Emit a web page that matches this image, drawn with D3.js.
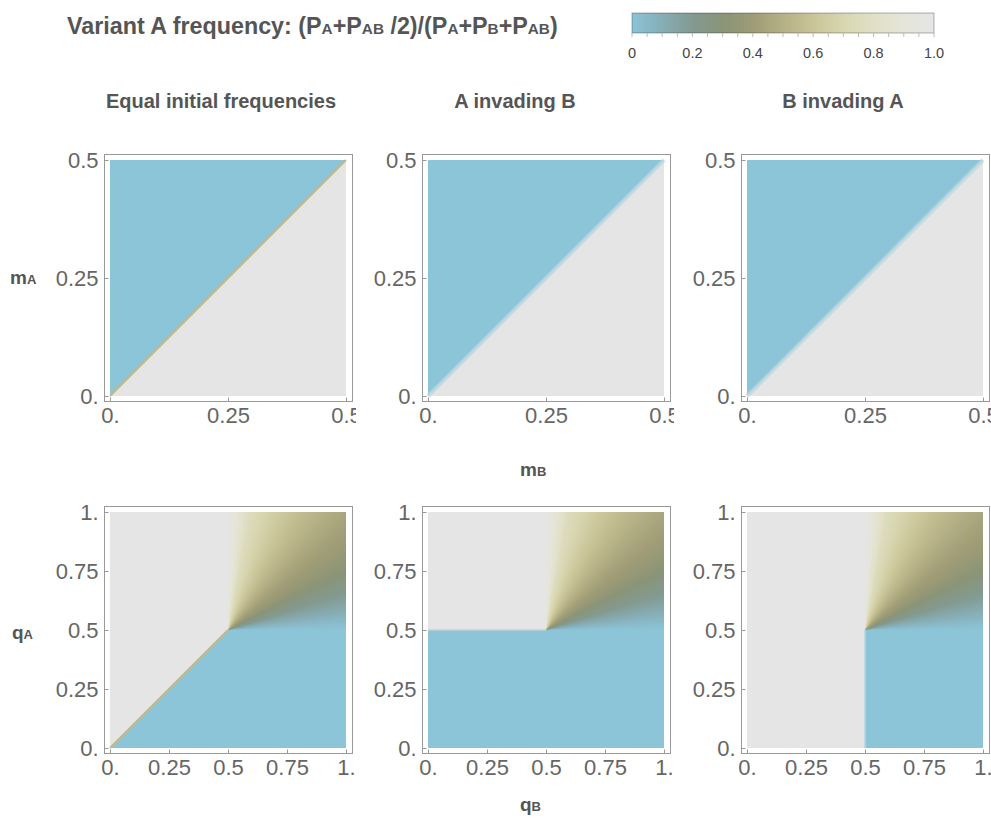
<!DOCTYPE html>
<html>
<head>
<meta charset="utf-8">
<script src="https://cdn.jsdelivr.net/npm/d3@7"></script>
<style>
  body { margin: 0; background: #fff; }
  text { font-family: "Liberation Sans", Arial, sans-serif; }
</style>
</head>
<body>
<svg id="chart" width="991" height="820"></svg>
<script>
// colour bar
const colorStops = [0, 0.1, 0.2, 0.3, 0.4, 0.5, 0.6, 0.7, 0.8, 0.9, 1]
const stopColors = ['#8cc4d8', '#86adb4', '#839a91', '#8a9477', '#9e9c76', '#b5b085', '#c9c598', '#d8d6b0', '#e1e0c7', '#e5e5da', '#e5e5e5']
const colorTicks = [0, 0.2, 0.4, 0.6, 0.8, 1.0]
const colorTickLabels = ['0', '0.2', '0.4', '0.6', '0.8', '1.0']
const colorMinorTicks = [0, 0.05, 0.1, 0.15, 0.2, 0.25, 0.3, 0.35, 0.4, 0.45, 0.5, 0.55, 0.6, 0.65, 0.7, 0.75, 0.8, 0.85, 0.9, 0.95, 1]

const columnTitles = ['Equal initial frequencies', 'A invading B', 'B invading A']

// axes
const mTicks = [0, 0.25, 0.5]
const mTickLabels = ['0.', '0.25', '0.5']
const qTicks = [0, 0.25, 0.5, 0.75, 1]
const qTickLabels = ['0.', '0.25', '0.5', '0.75', '1.']

// top row (mB, mA): frequency 0 above the diagonal, 1 below
const mBlueRegion = [[0, 0], [0, 0.5], [0.5, 0.5]]
const mGrayRegion = [[0, 0], [0.5, 0], [0.5, 0.5]]
const mDiagonal = [[0, 0], [0.5, 0.5]]

// bottom row (qB, qA): regions of frequency 0 and 1 in each column
const qBlueRegions = [
  [[0, 0], [1, 0], [1, 0.5], [0.5, 0.5]],
  [[0, 0], [1, 0], [1, 0.5], [0, 0.5]],
  [[0.5, 0], [1, 0], [1, 0.5], [0.5, 0.5]]
]
const qGrayRegions = [
  [[0, 0], [0.5, 0.5], [0.5, 1], [0, 1]],
  [[0, 0.5], [0.5, 0.5], [0.5, 1], [0, 1]],
  [[0, 0], [0.5, 0], [0.5, 1], [0, 1]]
]
const qBorders = [
  [[0, 0], [0.5, 0.5]],
  [[0, 0.5], [0.5, 0.5]],
  [[0.5, 0], [0.5, 0.5]]
]
// mixed region qB > 0.5, qA > 0.5: frequency against angle (deg) seen from (0.5, 0.5)
const fanAngles = [0, 2, 9, 17, 27, 35, 45, 51, 63, 79, 84, 90]
const fanValues = [0, 0.02, 0.1, 0.2, 0.3, 0.38, 0.45, 0.5, 0.6, 0.75, 0.85, 0.97]
const ridgeValue = 0.55

// layout
const colX = [110, 428, 747]
const rowY = [160, 512]
const size = 236
const pad = 6

const svg = d3.select('#chart')
const color = d3.scaleLinear().domain(colorStops).range(stopColors).interpolate(d3.interpolateRgb).clamp(true)
const fan = d3.scaleLinear().domain(fanAngles).range(fanValues).clamp(true)
const blue = color(0)
const gray = color(1)
const blend = d3.interpolateRgb(blue, gray)(0.5)
const defs = svg.append('defs')

// ---- title ----
const titleParts = [
  ['Variant A frequency: (P', false], ['A', true], ['+P', false], ['AB', true], [' /2)/(P', false],
  ['A', true], ['+P', false], ['B', true], ['+P', false], ['AB', true], [')', false]
]
const subText = (sel, parts, big, small) => {
  parts.forEach(([t, sub]) => {
    sel.append('tspan')
      .attr('font-size', sub ? small : big)
      .text(t)
  })
}
const title = svg.append('text')
  .attr('x', 67).attr('y', 34)
  .attr('font-weight', 'bold').attr('fill', '#555')
subText(title, titleParts, 23.3, 15.3)

// ---- colour bar ----
const cb = { x: 632, y: 13, w: 302, h: 20 }
const grad = defs.append('linearGradient').attr('id', 'cbGrad')
grad.selectAll('stop').data(colorStops).enter().append('stop')
  .attr('offset', d => d * 100 + '%')
  .attr('stop-color', (d, i) => stopColors[i])
svg.append('rect')
  .attr('x', cb.x).attr('y', cb.y).attr('width', cb.w).attr('height', cb.h)
  .attr('fill', 'url(#cbGrad)')
  .attr('stroke', 'rgba(0,0,0,0.3)')
const cbScale = d3.scaleLinear().domain([0, 1]).range([cb.x, cb.x + cb.w])
svg.append('g').selectAll('line').data(colorMinorTicks).enter().append('line')
  .attr('x1', d => cbScale(d)).attr('x2', d => cbScale(d))
  .attr('y1', cb.y + cb.h).attr('y2', cb.y + cb.h + 4)
  .attr('stroke', '#bbb')
svg.append('g').selectAll('text').data(colorTicks).enter().append('text')
  .attr('x', d => cbScale(d)).attr('y', 58)
  .attr('text-anchor', 'middle').attr('font-size', 14.5).attr('fill', '#444')
  .text((d, i) => colorTickLabels[i])

// ---- column titles ----
const titleX = [221, 515, 843]
svg.append('g').selectAll('text').data(columnTitles).enter().append('text')
  .attr('x', (d, i) => titleX[i]).attr('y', 108)
  .attr('text-anchor', 'middle')
  .attr('font-size', 20).attr('font-weight', 'bold').attr('fill', '#555')
  .text(d => d)

// ---- panels ----
const line = d3.line()

// raster of the mixed quadrant, coloured pixel by pixel through the scales
const fanImage = (x, y) => {
  const x0 = Math.round(x(0.5)), x1 = Math.round(x(1))
  const y0 = Math.round(y(1)), y1 = Math.round(y(0.5))
  const w = x1 - x0, h = y1 - y0
  const canvas = document.createElement('canvas')
  canvas.width = w
  canvas.height = h
  const ctx = canvas.getContext('2d')
  const img = ctx.createImageData(w, h)
  for (let j = 0; j < h; j++) {
    for (let i = 0; i < w; i++) {
      const qB = x.invert(x0 + i + 0.5)
      const qA = y.invert(y0 + j + 0.5)
      const ang = Math.atan2(qA - 0.5, qB - 0.5) * 180 / Math.PI
      const c = d3.rgb(color(fan(ang)))
      const k = (j * w + i) * 4
      img.data[k] = c.r
      img.data[k + 1] = c.g
      img.data[k + 2] = c.b
      img.data[k + 3] = 255
    }
  }
  ctx.putImageData(img, 0, 0)
  return { href: canvas.toDataURL(), x: x0, y: y0, w, h }
}

const drawPanel = (col, row) => {
  const isM = row === 0
  const domain = isM ? [0, 0.5] : [0, 1]
  const ticks = isM ? mTicks : qTicks
  const labels = isM ? mTickLabels : qTickLabels
  const x = d3.scaleLinear().domain(domain).range([colX[col], colX[col] + size])
  const y = d3.scaleLinear().domain(domain).range([rowY[row] + size, rowY[row]])
  const pts = p => p.map(([a, b]) => [x(a), y(b)])
  const id = `p${row}${col}`

  defs.append('clipPath').attr('id', `clip-${id}`).append('rect')
    .attr('x', colX[col] - 110).attr('y', rowY[row] - 40)
    .attr('width', size + 110 + pad + 4).attr('height', size + 80)
  const g = svg.append('g').attr('clip-path', `url(#clip-${id})`)

  const blueRegion = isM ? mBlueRegion : qBlueRegions[col]
  const grayRegion = isM ? mGrayRegion : qGrayRegions[col]
  g.append('path').attr('d', line(pts(blueRegion)) + 'Z').attr('fill', blue)
  g.append('path').attr('d', line(pts(grayRegion)) + 'Z').attr('fill', gray)

  if (!isM) {
    const f = fanImage(x, y)
    g.append('image')
      .attr('href', f.href)
      .attr('x', f.x).attr('y', f.y).attr('width', f.w).attr('height', f.h)
      .attr('preserveAspectRatio', 'none')
  }

  // borders between regions
  if (isM && col > 0) {
    g.append('path').attr('d', line(pts(mDiagonal)))
      .attr('stroke', blend).attr('stroke-width', 4).attr('stroke-opacity', 0.75).attr('fill', 'none')
  } else if (col === 0) {
    g.append('path').attr('d', line(pts(isM ? mDiagonal : qBorders[0])))
      .attr('stroke', color(ridgeValue)).attr('stroke-width', 2.2).attr('fill', 'none')
  } else {
    g.append('path').attr('d', line(pts(qBorders[col])))
      .attr('stroke', blend).attr('stroke-width', 1.5).attr('fill', 'none')
  }

  // frame
  const fx0 = x(domain[0]) - pad
  const fx1 = x(domain[1]) + pad
  const fy0 = y(domain[0]) + pad - 1
  const fy1 = y(domain[1]) - pad
  g.append('rect')
    .attr('x', fx0 + 0.5).attr('y', fy1 + 0.5)
    .attr('width', fx1 - fx0).attr('height', fy0 - fy1)
    .attr('fill', 'none').attr('stroke', '#999')

  const yAxis = d3.axisLeft(y).tickValues(ticks).tickFormat((d, i) => labels[i])
    .tickSizeInner(-4).tickSizeOuter(0).tickPadding(6)
  const ya = g.append('g').attr('transform', `translate(${fx0 + 0.5},0)`).call(yAxis)
  const xAxis = d3.axisBottom(x).tickValues(ticks).tickFormat((d, i) => labels[i])
    .tickSizeInner(-4).tickSizeOuter(0).tickPadding(6)
  const xa = g.append('g').attr('transform', `translate(0,${fy0 + 0.5})`).call(xAxis)
  ;[ya, xa].forEach(a => {
    a.select('.domain').remove()
    a.attr('color', '#999')
    a.selectAll('text').attr('font-size', 22).attr('fill', '#666')
      .attr('font-family', '"Liberation Sans", Arial, sans-serif')
  })
}

;[0, 1].forEach(row => [0, 1, 2].forEach(col => drawPanel(col, row)))

// ---- axis names ----
const axisNames = [
  { x: 10, y: 284, parts: [['m', false], ['A', true]] },
  { x: 12, y: 639, parts: [['q', false], ['A', true]] },
  { x: 520, y: 476, parts: [['m', false], ['B', true]] },
  { x: 520, y: 811, parts: [['q', false], ['B', true]] }
]
axisNames.forEach(n => {
  const t = svg.append('text').attr('x', n.x).attr('y', n.y)
    .attr('font-weight', 'bold').attr('fill', '#555')
  subText(t, n.parts, 19, 13)
})
</script>
</body>
</html>
